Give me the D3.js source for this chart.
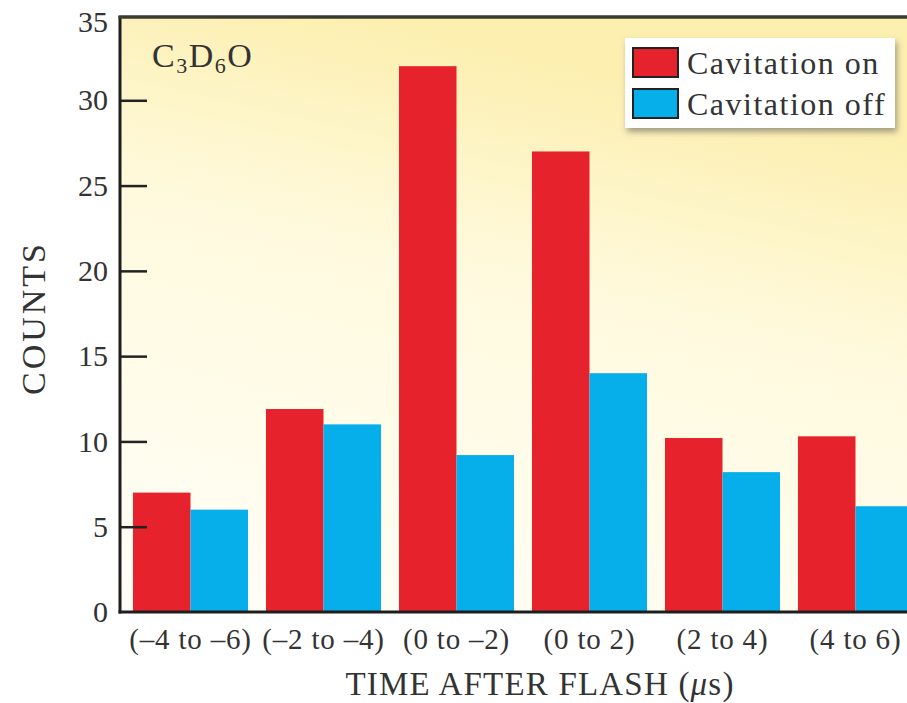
<!DOCTYPE html>
<html>
<head>
<meta charset="utf-8">
<script src="https://cdn.jsdelivr.net/npm/d3@7"></script>
<style>
  body { margin: 0; background: #fff; }
  svg { display: block; font-family: "Liberation Serif", "Times New Roman", serif; }
</style>
</head>
<body>
<script>
// data
var categories = ["(\u20134 to \u20136)", "(\u20132 to \u20134)", "(0 to \u20132)", "(0 to 2)", "(2 to 4)", "(4 to 6)"];
var seriesNames = ["Cavitation on", "Cavitation off"];
var cavitationOn = [7, 11.9, 32, 27, 10.2, 10.3];
var cavitationOff = [6, 11, 9.2, 14, 8.2, 6.2];
var yTicks = [0, 5, 10, 15, 20, 25, 30, 35];

var colors = { "Cavitation on": "#e6232d", "Cavitation off": "#06aeea" };

var width = 907, height = 703;
var plotLeft = 120, plotRight = 907, plotTop = 15, plotBottom = 612;

var rows = categories.map(function (c, i) {
  return { cat: c, values: [
    { key: seriesNames[0], value: cavitationOn[i] },
    { key: seriesNames[1], value: cavitationOff[i] }
  ] };
});

var svg = d3.select("body").append("svg")
  .attr("width", width)
  .attr("height", height);

// pale yellow wash behind the plot
var defs = svg.append("defs");
var grad = defs.append("linearGradient")
  .attr("id", "bg").attr("x1", 0.3).attr("y1", 0).attr("x2", 0).attr("y2", 1);
grad.append("stop").attr("offset", "0%").attr("stop-color", "#fcefb0");
grad.append("stop").attr("offset", "35%").attr("stop-color", "#fffade");
grad.append("stop").attr("offset", "100%").attr("stop-color", "#fffef8");

var shadow = defs.append("filter").attr("id", "shadow")
  .attr("x", "-10%").attr("y", "-10%").attr("width", "130%").attr("height", "140%");
shadow.append("feDropShadow")
  .attr("dx", 2).attr("dy", 4).attr("stdDeviation", 3)
  .attr("flood-color", "#555").attr("flood-opacity", 0.55);

var yScale = d3.scaleLinear()
  .domain([0, 35])
  .range([plotBottom, plotTop]);

var x0 = d3.scaleBand()
  .domain(categories)
  .range([124, 922])
  .paddingInner(0.135)
  .paddingOuter(0.0675);

var x1 = d3.scaleBand()
  .domain(seriesNames)
  .range([0, x0.bandwidth()]);

svg.append("rect")
  .attr("x", plotLeft).attr("y", yScale(35) + 2)
  .attr("width", plotRight - plotLeft).attr("height", plotBottom - yScale(35) - 2)
  .attr("fill", "url(#bg)");

// bars
svg.append("g").selectAll("g")
  .data(rows)
  .enter().append("g")
  .attr("transform", function (d) { return "translate(" + x0(d.cat) + ",0)"; })
  .selectAll("rect")
  .data(function (d) { return d.values; })
  .enter().append("rect")
  .attr("x", function (d) { return x1(d.key); })
  .attr("y", function (d) { return yScale(d.value); })
  .attr("width", x1.bandwidth())
  .attr("height", function (d) { return plotBottom - yScale(d.value); })
  .attr("fill", function (d) { return colors[d.key]; });

// y axis, ticks point inward
var yAxis = svg.append("g")
  .attr("transform", "translate(" + plotLeft + ",0)")
  .call(d3.axisLeft(yScale).tickValues(yTicks).tickSizeInner(-27).tickSizeOuter(0).tickPadding(12));
yAxis.select(".domain").remove();
yAxis.selectAll(".tick line").attr("stroke", "#222").attr("stroke-width", 2.5);
yAxis.selectAll(".tick text")
  .attr("font-family", "Liberation Serif, serif")
  .attr("font-size", 30)
  .attr("fill", "#333");
yAxis.selectAll(".tick").filter(function (d) { return d === 0 || d === 35; }).select("line").remove();
yAxis.selectAll(".tick").filter(function (d) { return d === 35; }).select("text").attr("dy", "0.55em");

// x axis labels
var xAxis = svg.append("g")
  .attr("transform", "translate(0," + plotBottom + ")")
  .call(d3.axisBottom(x0).tickSize(0).tickPadding(16));
xAxis.select(".domain").remove();
xAxis.selectAll(".tick text")
  .attr("font-family", "Liberation Serif, serif")
  .attr("font-size", 29)
  .attr("letter-spacing", 0.8)
  .attr("fill", "#333");

// frame: left, bottom, top
svg.append("line")
  .attr("x1", plotLeft).attr("x2", plotLeft)
  .attr("y1", yScale(35) + 1).attr("y2", plotBottom + 1.5)
  .attr("stroke", "#1e1e1e").attr("stroke-width", 3);
svg.append("line")
  .attr("x1", plotLeft - 1.5).attr("x2", plotRight)
  .attr("y1", plotBottom).attr("y2", plotBottom)
  .attr("stroke", "#1e1e1e").attr("stroke-width", 3);
svg.append("line")
  .attr("x1", plotLeft - 1.5).attr("x2", plotRight)
  .attr("y1", yScale(35) + 2).attr("y2", yScale(35) + 2)
  .attr("stroke", "#3a3a30").attr("stroke-width", 3.5);

// axis titles
var xTitle = svg.append("text")
  .attr("x", 540).attr("y", 695)
  .attr("text-anchor", "middle")
  .attr("font-size", 33)
  .attr("letter-spacing", 1.2)
  .attr("fill", "#333");
xTitle.append("tspan").text("TIME AFTER FLASH (");
xTitle.append("tspan").attr("font-style", "italic").text("\u03bc");
xTitle.append("tspan").text("s)");

svg.append("text")
  .attr("transform", "translate(45,318) rotate(-90)")
  .attr("text-anchor", "middle")
  .attr("font-size", 34)
  .attr("letter-spacing", 3)
  .attr("fill", "#333")
  .text("COUNTS");

// compound label
var chem = svg.append("text")
  .attr("x", 152).attr("y", 67)
  .attr("font-size", 34)
  .attr("letter-spacing", 1.5)
  .attr("fill", "#333");
chem.append("tspan").text("C");
chem.append("tspan").attr("font-size", 22).attr("dy", 6).text("3");
chem.append("tspan").attr("dy", -6).text("D");
chem.append("tspan").attr("font-size", 22).attr("dy", 6).text("6");
chem.append("tspan").attr("dy", -6).text("O");

// legend
var legend = svg.append("g").attr("transform", "translate(625,38)");
legend.append("rect")
  .attr("width", 270).attr("height", 90)
  .attr("fill", "#fff")
  .attr("filter", "url(#shadow)");
var items = legend.selectAll(".item")
  .data(seriesNames)
  .enter().append("g")
  .attr("class", "item")
  .attr("transform", function (d, i) { return "translate(8," + (10 + i * 41) + ")"; });
items.append("rect")
  .attr("width", 45).attr("height", 29)
  .attr("fill", function (d) { return colors[d]; })
  .attr("stroke", "#222").attr("stroke-width", 2);
items.append("text")
  .attr("x", 54).attr("y", 26)
  .attr("font-size", 32)
  .attr("letter-spacing", 1.5)
  .attr("fill", "#333")
  .text(function (d) { return d; });
</script>
</body>
</html>
